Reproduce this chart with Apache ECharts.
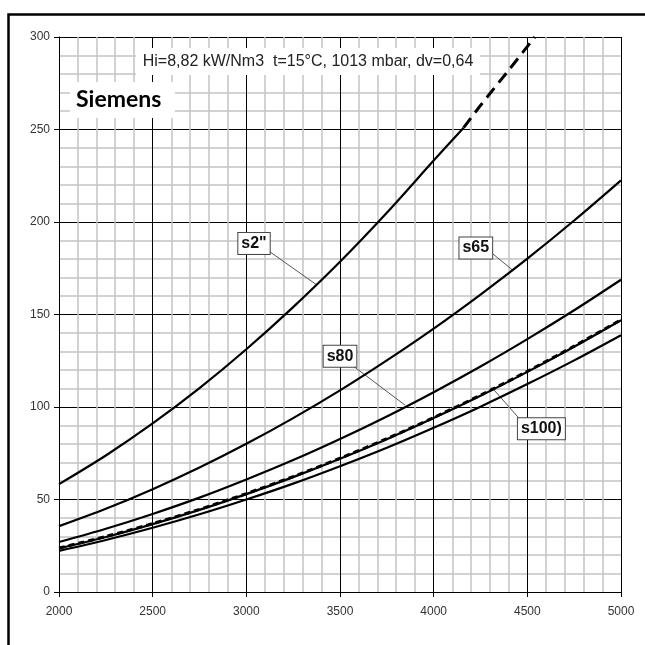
<!DOCTYPE html>
<html><head><meta charset="utf-8">
<script src="https://cdn.jsdelivr.net/npm/echarts@6/dist/echarts.min.js"></script>
<style>html,body{margin:0;padding:0;background:#fff}#c{width:645px;height:645px}</style>
</head><body><div id="c"></div>
<script>
// x positions (flow) and curve values
const xValues = [2000,2250,2500,2750,3000,3250,3500,3750,4000,4250,4500,4750,5000];
const s2SolidX = [2000,2250,2500,2750,3000,3250,3500,3750,4000,4160];
const s2Solid  = [58.3,73.8,91.1,110.2,131.2,154.0,178.5,205.0,233.2,251.0];
const s2DashX  = [4160,4250,4400,4540];
const s2Dash   = [251.0,263.0,282.0,300.0];
const s65      = [35.6,45.0,55.6,67.3,80.1,94.0,109.0,125.2,142.4,160.8,180.2,200.8,222.5];
const s80      = [27.0,34.2,42.2,51.0,60.8,71.3,82.7,94.9,108.0,121.9,136.7,152.3,168.8];
const s100     = [23.5,29.7,36.7,44.4,52.9,62.1,72.0,82.6,94.0,106.1,119.0,132.6,146.9];
const s100Dash = [23.8,30.0,37.0,44.7,53.2,62.4,72.3,82.9,94.3,106.4,119.3,132.9,147.2];
const sLow     = [22.2,28.1,34.7,42.0,50.0,58.6,68.0,78.0,88.8,100.2,112.4,125.2,138.8];
const xTicks = [2000,2500,3000,3500,4000,4500,5000];
const yTicks = [0,50,100,150,200,250,300];
const titleText = 'Hi=8,82 kW/Nm3  t=15°C, 1013 mbar, dv=0,64';
const brandText = 'Siemens';
// curve labels: name, label position, leader start, leader end (data coords)
const labelNames = ['s2"', 's65', 's80', 's100)'];
const labelAt    = [[3041,188.4],[4225,186.0],[3500,127.4],[4575,88.3]];
const leaderFrom = [[3117,184.5],[4301,184.0],[3575,121.8],[4461,93.3]];
const leaderTo   = [[3376,166.0],[4425,173.7],[3847,101.0],[4310,110.6]];

const zip = (xs, ys) => xs.map((x, i) => [x, ys[i]]);
const lineSeries = (data, width, type, z) => ({
  type: 'line', data, showSymbol: false, symbol: 'none', smooth: 0.3, z: z || 5,
  lineStyle: { color: '#000', width, type: type || 'solid' }, silent: true, animation: false
});

const chart = echarts.init(document.getElementById('c'), null, { renderer: 'canvas' });
const annot = {
  type: 'line', data: [], silent: true, animation: false, z: 8,
  markLine: {
    symbol: 'none', silent: true, animation: false,
    lineStyle: { color: '#555', width: 1, type: 'solid' },
    label: { show: false },
    data: leaderFrom.map((p, i) => [{ coord: p }, { coord: leaderTo[i] }])
  },
  markPoint: {
    symbol: 'circle', symbolSize: 1, silent: true, animation: false,
    itemStyle: { color: 'rgba(0,0,0,0)' },
    label: {
      show: true, position: 'inside', color: '#111',
      fontFamily: '"Liberation Sans Narrow","Liberation Sans",sans-serif', fontWeight: 'bold', fontSize: 16,
      backgroundColor: '#fff', borderColor: '#444', borderWidth: 1, padding: [3, 3, 2, 3],
      formatter: p => p.name
    },
    data: labelAt.map((p, i) => ({ name: labelNames[i], coord: p }))
  }
};

chart.setOption({
  animation: false,
  backgroundColor: '#fff',
  grid: { left: 59, right: 24, top: 37, bottom: 53, containLabel: false },
  xAxis: {
    type: 'value', min: 2000, max: 5000, interval: 500,
    axisLine: { show: true, lineStyle: { color: '#000', width: 1 } },
    axisTick: { show: true, length: 5, lineStyle: { color: '#000' } },
    axisLabel: { color: '#333', fontSize: 12, fontFamily: '"Liberation Sans",Arial,sans-serif', margin: 14,
      formatter: v => xTicks.includes(v) ? String(v) : '' },
    splitLine: { show: true, lineStyle: { color: '#000', width: 1 } },
    minorTick: { show: false, splitNumber: 5 },
    minorSplitLine: { show: true, lineStyle: { color: '#c4c4c4', width: 1.5 } }
  },
  yAxis: {
    type: 'value', min: 0, max: 300, interval: 50,
    axisLine: { show: true, lineStyle: { color: '#000', width: 1 } },
    axisTick: { show: true, length: 5, lineStyle: { color: '#000' } },
    axisLabel: { color: '#333', fontSize: 12, fontFamily: '"Liberation Sans",Arial,sans-serif', margin: 9,
      formatter: v => yTicks.includes(v) ? String(v) : '' },
    splitLine: { show: true, lineStyle: { color: '#000', width: 1 } },
    minorTick: { show: false, splitNumber: 5 },
    minorSplitLine: { show: true, lineStyle: { color: '#c4c4c4', width: 1.5 } }
  },
  graphic: [
    { type: 'rect', left: 6, top: 12, shape: { x: 0, y: 0, width: 700, height: 700 },
      style: { fill: 'none', stroke: '#000', lineWidth: 2.5 }, z: 100, silent: true },
    { type: 'rect', shape: { x: 136, y: 48, width: 344, height: 27 }, style: { fill: '#fff' }, z: 50, silent: true },
    { type: 'text', x: 308, y: 62, style: { text: titleText, fill: '#222', fontSize: 16,
      fontFamily: '"Liberation Sans",Arial,sans-serif', align: 'center', verticalAlign: 'middle' }, z: 51, silent: true },
    { type: 'rect', shape: { x: 70, y: 82, width: 105, height: 36 }, style: { fill: '#fff' }, z: 50, silent: true },
    { type: 'text', x: 76, y: 100, style: { text: brandText, fill: '#000', fontSize: 23, fontWeight: 'bold',
      fontFamily: 'Lato,"Open Sans",sans-serif', align: 'left', verticalAlign: 'middle' }, z: 51, silent: true }
  ],
  series: [
    lineSeries(zip(s2SolidX, s2Solid), 2.2),
    lineSeries(zip(s2DashX, s2Dash), 3, [12, 7]),
    lineSeries(zip(xValues, s65), 2.2),
    lineSeries(zip(xValues, s80), 2.2),
    lineSeries(zip(xValues, s100), 2.2),
    lineSeries(zip(xValues, s100Dash), 3, [6, 4], 6),
    lineSeries(zip(xValues, sLow), 2.2),
    annot
  ]
});
</script></body></html>
